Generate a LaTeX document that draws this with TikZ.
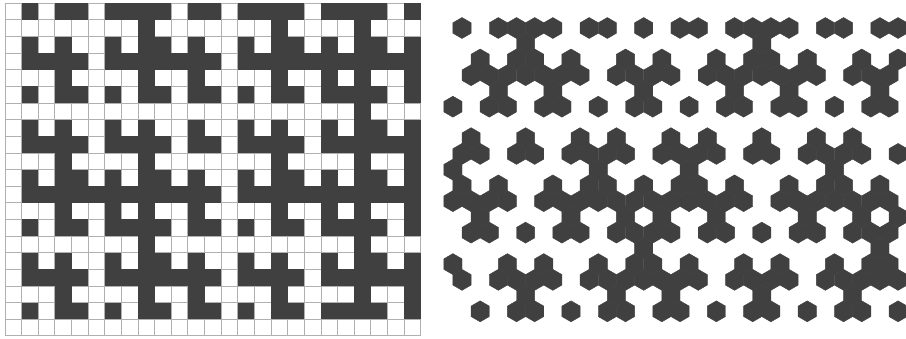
\documentclass[tikz,border=0pt]{standalone}
\usepackage{tikz}
\definecolor{cellfill}{HTML}{404040}
\definecolor{gridline}{HTML}{B0B0B0}

\begin{document}
\begin{tikzpicture}[
    x=1pt, y=-1pt,
    sqcell/.style={fill=cellfill},
    gridrule/.style={draw=gridline, line width=0.9pt},
    hexcell/.style={fill=cellfill, draw=cellfill, line width=0.4pt}
]
\useasboundingbox (0,0) rectangle (906,338);

% square grid, 25 x 20
\foreach \c in {0,...,25}
    \draw[gridrule] (5+16.63*\c,3.3) -- (5+16.63*\c,335.9);
\foreach \r in {0,...,20}
    \draw[gridrule] (5,3.3+16.63*\r) -- (420.75,3.3+16.63*\r);

\foreach \r/\cs in {
    0/{1,3,4,6,7,8,9,11,12,14,15,16,17,19,20,21,22,24},
    1/{8,16,21},
    2/{1,3,6,8,9,11,14,16,17,19,21,22,24},
    3/{1,2,3,4,6,7,8,9,10,11,12,14,15,16,17,18,19,20,21,22,23,24},
    4/{3,8,11,16,19,21,24},
    5/{1,3,4,6,8,9,11,12,14,16,17,19,20,21,22,24},
    6/{21},
    7/{1,3,6,8,11,14,16,19,21,22,24},
    8/{1,2,3,4,6,7,8,9,11,12,14,15,16,17,19,20,21,22,23,24},
    9/{3,8,16,21,24},
    10/{1,3,4,6,8,9,11,14,16,17,19,21,22,24},
    11/{1,2,3,4,5,6,7,8,9,10,11,12,14,15,16,17,18,19,20,21,22,23,24},
    12/{3,6,8,11,16,19,21,24},
    13/{1,3,4,6,7,8,9,11,12,14,16,17,19,20,21,22,24},
    14/{8,21},
    15/{1,3,6,8,9,11,14,16,19,21,22,24},
    16/{1,2,3,4,6,7,8,9,10,11,12,14,15,16,17,19,20,21,22,23,24},
    17/{3,8,11,16,21,24},
    18/{1,3,4,6,8,9,11,12,14,16,17,19,20,21,22,24}}{
    \foreach \c in \cs
        \fill[sqcell] (5+16.63*\c,3.3+16.63*\r) rectangle +(16.63,16.63);
}

% hexagonal grid, odd rows shifted half a cell left
\foreach \r/\ks in {
    0/{0,2,3,4,5,7,8,10,12,13,15,16,17,18,20,21,23,24},
    1/{4,17},
    2/{1,3,4,6,9,11,14,16,17,19,22,24},
    3/{1,2,3,4,5,6,7,9,10,11,12,14,15,16,17,18,19,20,22,23,24},
    4/{2,5,10,15,18,23},
    5/{0,2,3,5,6,8,10,11,13,15,16,18,19,21,23,24},
    7/{1,4,7,9,12,14,17,20,22},
    8/{0,1,3,4,6,7,8,9,11,12,13,14,16,17,19,20,21,22,24},
    9/{0,8,13,21},
    10/{0,2,5,7,8,10,12,13,15,18,20,21,23},
    11/{0,1,2,3,5,6,7,8,9,10,11,12,13,14,15,16,18,19,20,21,22,23,24},
    12/{1,6,9,11,14,19,22,24},
    13/{1,2,4,6,7,9,10,11,12,14,15,17,19,20,22,23,24},
    14/{10,23},
    15/{0,3,5,8,10,11,13,16,18,21,23,24},
    16/{0,2,3,4,5,7,8,9,10,11,12,13,15,16,17,18,20,21,22,23,24},
    17/{4,9,12,17,22},
    18/{1,3,4,6,8,9,11,12,14,16,17,19,21,22,24}}{
    \foreach \k in \ks {
        \pgfmathsetmacro\hx{462+18.17*\k-9.085*mod(\r,2)}
        \pgfmathsetmacro\hy{28+15.74*\r}
        \filldraw[hexcell] (\hx,\hy) +(0,-10.49) -- +(9.085,-5.245) -- +(9.085,5.245)
            -- +(0,10.49) -- +(-9.085,5.245) -- +(-9.085,-5.245) -- cycle;
    }
}

\end{tikzpicture}
\end{document}
